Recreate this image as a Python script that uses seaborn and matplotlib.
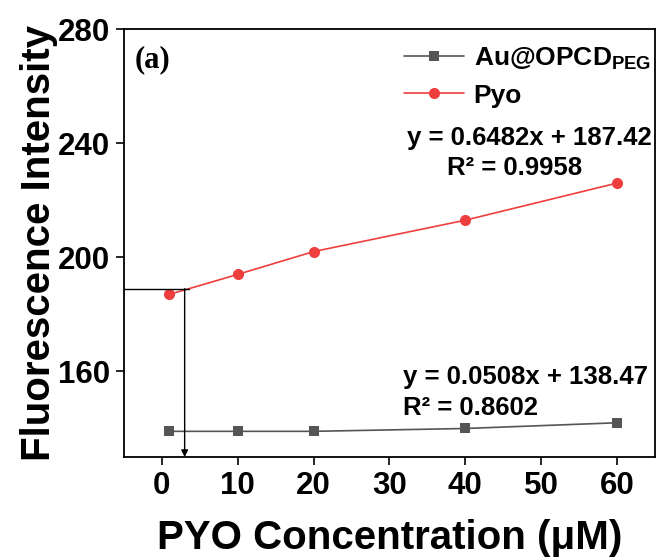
import matplotlib
matplotlib.use("Agg")
import matplotlib.pyplot as plt
import seaborn as sns
import pandas as pd

# Concentrations (µM) and measured fluorescence intensities
concentration = [1, 10, 20, 40, 60]
au_opcd_peg = [139, 139, 139, 140, 142]
pyo = [187, 194, 202, 213, 226]

x_ticks = [0, 10, 20, 30, 40, 50, 60]
y_ticks = [160, 200, 240, 280]

# Guide line marking the detection point on the Pyo curve
guide_y = 189
guide_x = 3.0
guide_x_end = 3.6

sns.set_theme(style="white")
plt.rcParams["font.family"] = ["Liberation Sans", "DejaVu Sans"]
plt.rcParams["font.weight"] = "bold"
plt.rcParams["text.color"] = "black"
plt.rcParams["axes.labelcolor"] = "black"
plt.rcParams["xtick.color"] = "black"
plt.rcParams["ytick.color"] = "black"
plt.rcParams["mathtext.fontset"] = "custom"
plt.rcParams["mathtext.rm"] = "Liberation Sans:bold"
plt.rcParams["mathtext.bf"] = "Liberation Sans:bold"

df_au = pd.DataFrame({"conc": concentration, "intensity": au_opcd_peg})
df_pyo = pd.DataFrame({"conc": concentration, "intensity": pyo})

fig = plt.figure(figsize=(6.58, 5.6), dpi=100)
ax = fig.add_axes([0.1884, 0.1839, 0.807, 0.7643])

sns.lineplot(data=df_au, x="conc", y="intensity", ax=ax, color="#555555",
             marker="s", markersize=7, markeredgewidth=0, linewidth=1.2,
             label=r"Au@OPCD$_{\mathregular{PEG}}$")
sns.lineplot(data=df_pyo, x="conc", y="intensity", ax=ax, color="#ee3e3e",
             marker="o", markersize=8, markeredgewidth=0, linewidth=1.2,
             label="Pyo")

# Detection guide: horizontal from the axis, then down with an arrow
ax.plot([-5, guide_x_end], [guide_y, guide_y], color="black", linewidth=1.0)
ax.annotate("", xy=(guide_x, 130), xytext=(guide_x, guide_y),
            arrowprops=dict(arrowstyle="-|>", color="black", lw=1.0,
                            mutation_scale=10, shrinkA=0, shrinkB=0))

ax.set_xlim(-5, 65)
ax.set_ylim(130, 280)
ax.set_xticks(x_ticks)
ax.set_yticks(y_ticks)
ax.tick_params(axis="both", direction="out", length=6, width=1.2,
               labelsize=22.5, bottom=True, left=True, pad=4)
for lab in ax.get_xticklabels() + ax.get_yticklabels():
    lab.set_fontweight("bold")

for sp in ax.spines.values():
    sp.set_color("black")
    sp.set_linewidth(1.3)

ax.set_xlabel("PYO Concentration (μM)", fontsize=29, fontweight="bold", labelpad=13)
ax.set_ylabel("Fluorescence Intensity", fontsize=29, fontweight="bold", labelpad=0)

leg = ax.legend(loc="upper right", frameon=False, fontsize=19,
                handlelength=2.3, handletextpad=0.35, borderaxespad=0.1,
                labelspacing=0.45, bbox_to_anchor=(1.017, 0.993))
for t in leg.get_texts():
    t.set_fontweight("bold")

ax.text(0.021, 0.962, "(a)", transform=ax.transAxes, ha="left", va="top",
        fontsize=22, fontweight="bold", family=["Liberation Serif", "DejaVu Serif"])

ax.text(0.994, 0.745, "y = 0.6482x + 187.42", transform=ax.transAxes,
        ha="right", va="center", fontsize=18.5, fontweight="bold")
ax.text(0.736, 0.675, "R² = 0.9958", transform=ax.transAxes,
        ha="center", va="center", fontsize=18.5, fontweight="bold")

ax.text(0.525, 0.187, "y = 0.0508x + 138.47", transform=ax.transAxes,
        ha="left", va="center", fontsize=18.5, fontweight="bold")
ax.text(0.525, 0.114, "R² = 0.8602", transform=ax.transAxes,
        ha="left", va="center", fontsize=18.5, fontweight="bold")

fig.savefig("out.png", dpi=100)
